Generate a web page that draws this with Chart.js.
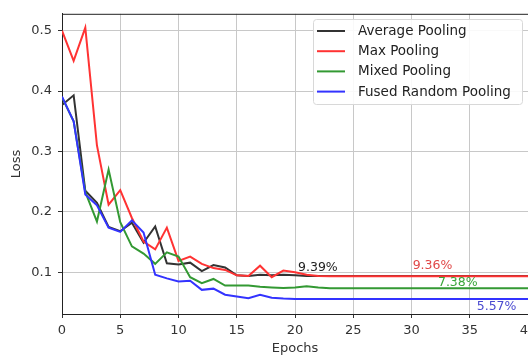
<!DOCTYPE html>
<html>
<head>
<meta charset="utf-8">
<script src="https://cdn.jsdelivr.net/npm/chart.js@4/dist/chart.umd.min.js"></script>
<style>
html,body{margin:0;padding:0;background:#fff;overflow:hidden;}
#wrap{position:relative;width:560px;height:356px;}
</style>
</head>
<body>
<div id="wrap"><canvas id="c"></canvas></div>
<script>
const epochs = [0,1,2,3,4,5,6,7,8,9,10,11,12,13,14,15,16,17,18,19,20,21,22,23,24,25,26,27,28,29,30,31,32,33,34,35,36,37,38,39,40];
const seriesNames = ["Average Pooling","Max Pooling","Mixed Pooling","Fused Random Pooling"];
const avgPooling = [0.377,0.393,0.235,0.215,0.175,0.168,0.182,0.149,0.176,0.115,0.113,0.116,0.102,0.112,0.108,0.095,0.094,0.096,0.095,0.096,0.095,0.0939,0.0939,0.0939,0.0939,0.0939,0.0939,0.0939,0.0939,0.0939,0.0939,0.0939,0.0939,0.0939,0.0939,0.0939,0.0939,0.0939,0.0939,0.0939,0.0939];
const maxPooling = [0.500,0.450,0.505,0.310,0.212,0.236,0.190,0.151,0.138,0.174,0.119,0.126,0.114,0.107,0.104,0.095,0.094,0.111,0.092,0.103,0.100,0.096,0.094,0.0936,0.0936,0.0936,0.0936,0.0936,0.0936,0.0936,0.0936,0.0936,0.0936,0.0936,0.0936,0.0936,0.0936,0.0936,0.0936,0.0936,0.0936];
const mixedPooling = [0.390,0.350,0.233,0.184,0.270,0.183,0.143,0.131,0.114,0.133,0.126,0.092,0.082,0.089,0.078,0.078,0.078,0.076,0.075,0.074,0.075,0.077,0.075,0.0738,0.0738,0.0738,0.0738,0.0738,0.0738,0.0738,0.0738,0.0738,0.0738,0.0738,0.0738,0.0738,0.0738,0.0738,0.0738,0.0738,0.0738];
const fusedRandomPooling = [0.391,0.350,0.229,0.211,0.174,0.167,0.186,0.166,0.096,0.090,0.085,0.086,0.071,0.073,0.063,0.060,0.057,0.063,0.058,0.0565,0.0557,0.0557,0.0557,0.0557,0.0557,0.0557,0.0557,0.0557,0.0557,0.0557,0.0557,0.0557,0.0557,0.0557,0.0557,0.0557,0.0557,0.0557,0.0557,0.0557,0.0557];
const xTicks = [0,5,10,15,20,25,30,35,40];
const yTicks = [0.1,0.2,0.3,0.4,0.5];
const noteTexts = ["9.39%","9.36%","7.38%","5.57%"];
const noteX = [20.26,30.1,32.27,35.6];
const noteY = [0.1077,0.111,0.082,0.0438];

const lineColors = ["#333333","#ff3333","#339933","#3333ff"];
const noteColors = ["#222222","#e04848","#3aa63a","#4a4ad0"];
const FONT = "'DejaVu Sans', sans-serif";

const allSeries = [avgPooling, maxPooling, mixedPooling, fusedRandomPooling];
const datasets = allSeries.map((vals, i) => ({
  label: seriesNames[i],
  data: vals.map((v, j) => ({x: epochs[j], y: v})),
  borderColor: lineColors[i],
  backgroundColor: lineColors[i],
  borderWidth: 2,
  pointRadius: 0,
  tension: 0,
  fill: false,
  order: 4 - i
}));

const extras = {
  id: 'extras',
  afterDatasetsDraw(chart) {
    const {ctx, chartArea: a, scales: {x, y}} = chart;
    ctx.save();
    // top spine
    ctx.strokeStyle = '#222';
    ctx.lineWidth = 1;
    ctx.beginPath();
    ctx.moveTo(a.left, a.top + 0.5);
    ctx.lineTo(a.right, a.top + 0.5);
    ctx.stroke();
    // annotations
    ctx.font = "12.5px " + FONT;
    ctx.textBaseline = 'middle';
    ctx.textAlign = 'left';
    noteTexts.forEach((t, i) => {
      ctx.fillStyle = noteColors[i];
      ctx.fillText(t, x.getPixelForValue(noteX[i]), y.getPixelForValue(noteY[i]));
    });
    // legend
    const bx = 313, by = 19, bw = 209, bh = 85;
    ctx.fillStyle = 'rgba(255,255,255,0.88)';
    ctx.strokeStyle = '#d8d8d8';
    ctx.lineWidth = 1;
    ctx.beginPath();
    if (ctx.roundRect) ctx.roundRect(bx + 0.5, by + 0.5, bw, bh, 3); else ctx.rect(bx + 0.5, by + 0.5, bw, bh);
    ctx.fill();
    ctx.stroke();
    ctx.font = "13.5px " + FONT;
    seriesNames.forEach((n, i) => {
      const cy = 31 + i * 20.2;
      ctx.strokeStyle = lineColors[i];
      ctx.lineWidth = 2;
      ctx.beginPath();
      ctx.moveTo(317, cy);
      ctx.lineTo(345, cy);
      ctx.stroke();
      ctx.fillStyle = '#222';
      ctx.fillText(n, 358, cy + 0.5);
    });
    ctx.restore();
  }
};

new Chart(document.getElementById('c'), {
  type: 'line',
  data: { datasets },
  plugins: [extras],
  options: {
    responsive: true,
    maintainAspectRatio: false,
    animation: false,
    devicePixelRatio: 1,
    layout: { padding: { top: 11, right: 32, left: 0, bottom: 0 } },
    plugins: { legend: { display: false }, tooltip: { enabled: false } },
    scales: {
      x: {
        type: 'linear',
        min: 0, max: 40,
        afterFit(s) { s.height = 42; },
        afterBuildTicks(s) { s.ticks = xTicks.map(v => ({value: v})); },
        ticks: { font: { family: FONT, size: 13 }, color: '#333', padding: 5, maxRotation: 0 },
        grid: { color: '#c8c8c8', lineWidth: 1, tickLength: 4, tickColor: '#333', drawTicks: true },
        border: { color: '#222', width: 1 },
        title: { display: true, text: 'Epochs', font: { family: FONT, size: 13 }, color: '#333', padding: { top: 0, bottom: 0 } }
      },
      y: {
        min: 0.031, max: 0.528,
        afterFit(s) { s.width = 62; },
        afterBuildTicks(s) { s.ticks = yTicks.map(v => ({value: v})); },
        ticks: { font: { family: FONT, size: 13 }, color: '#333', padding: 6, callback: v => v.toFixed(1) },
        grid: { color: '#c8c8c8', lineWidth: 1, tickLength: 4, tickColor: '#333', drawTicks: true },
        border: { color: '#222', width: 1 },
        title: { display: true, text: 'Loss', font: { family: FONT, size: 13 }, color: '#333', padding: { top: 9, bottom: 0 } }
      }
    }
  }
});
</script>
</body>
</html>
